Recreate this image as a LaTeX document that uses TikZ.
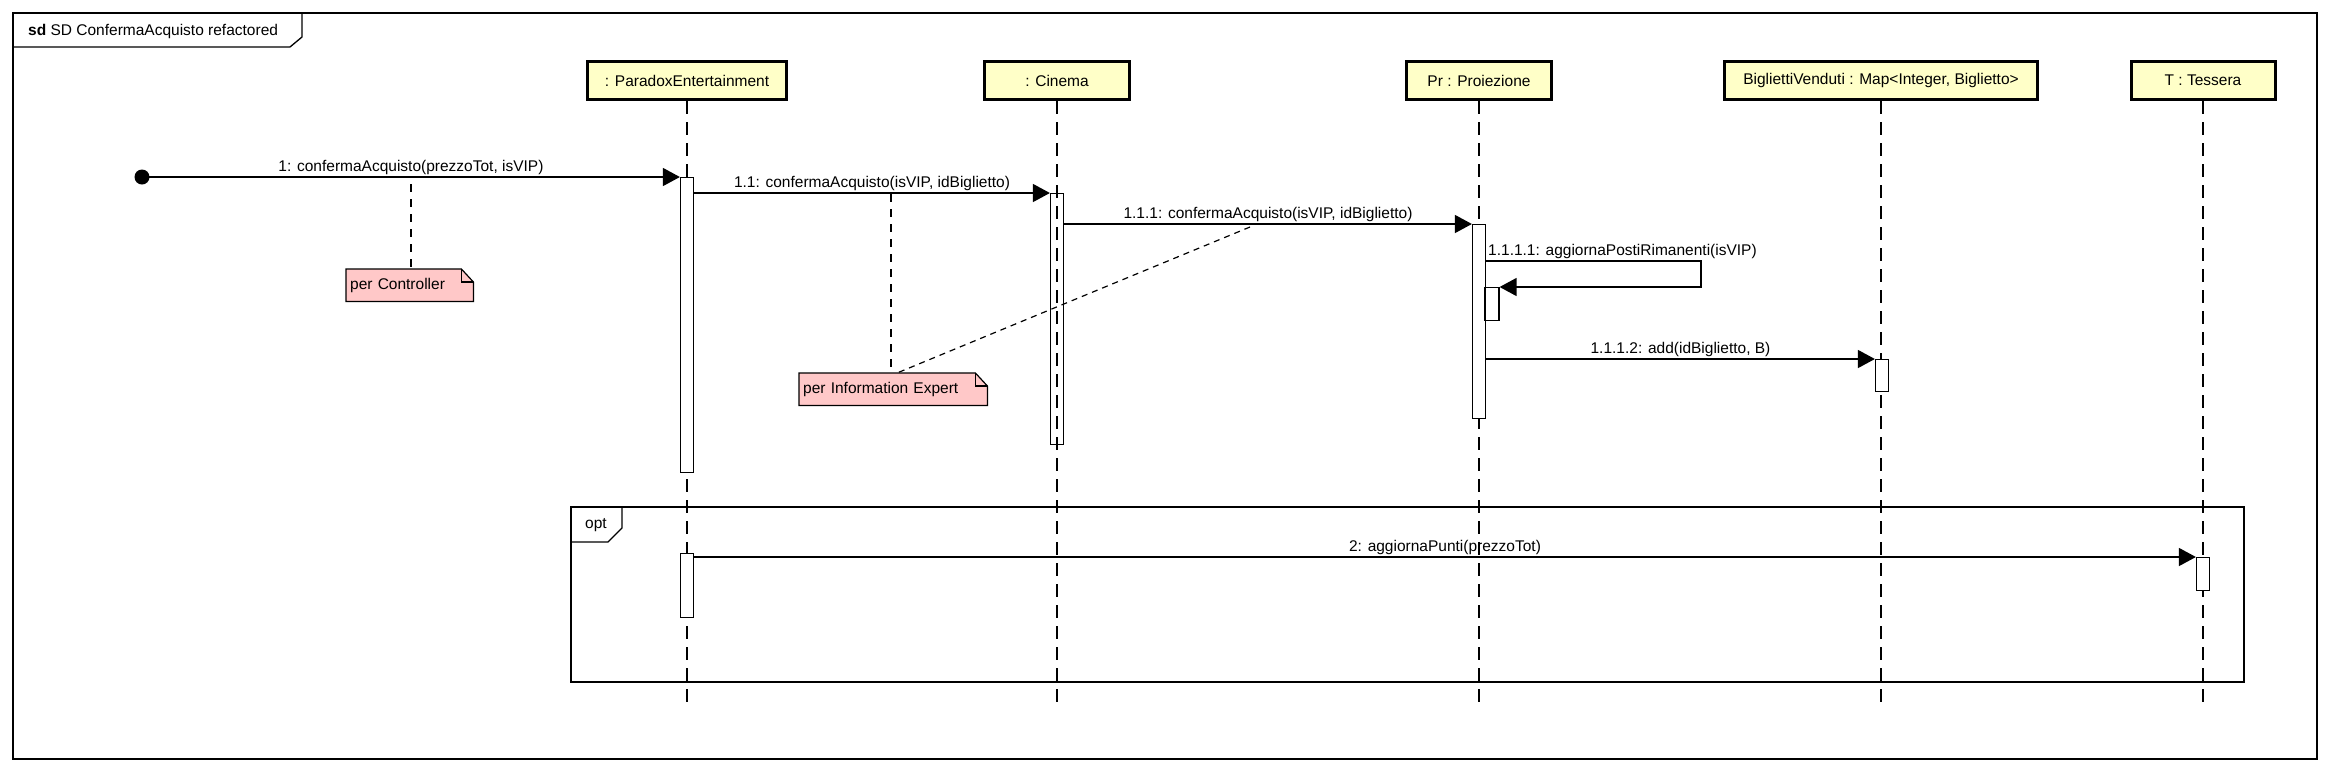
\documentclass[tikz,border=0pt]{standalone}
\usepackage{fontspec}
\setmainfont{Liberation Sans}
\usetikzlibrary{arrows.meta,backgrounds}
\definecolor{headfill}{RGB}{255,255,200}
\definecolor{notefill}{RGB}{255,200,200}
\begin{document}
\begin{tikzpicture}[x=1pt,y=-1pt,
  every node/.style={font=\fontsize{15.5}{18}\selectfont},
  head/.style={draw, line width=3pt, fill=headfill, minimum height=38pt, inner sep=0pt},
  life/.style={line width=1.2pt, dash pattern=on 13pt off 8pt},
  act/.style={draw, line width=1.2pt, fill=white, inner sep=0pt, minimum width=13pt, anchor=north},
  msg/.style={line width=1.4pt, -{Triangle[length=17pt,width=18pt]}},
  lbl/.style={anchor=base, yshift=6pt, inner sep=0pt},
  notebox/.style={inner sep=0pt, inner xsep=4pt, align=left, minimum height=32pt, anchor=north west},
  noteline/.style={line width=1.2pt, dash pattern=on 8pt off 7pt},
  frameline/.style={line width=1.3pt}
]
\useasboundingbox (0,0) rectangle (2330,772);

% outer frame
\draw[frameline] (13,13) rectangle (2317,759);
\draw[frameline] (13,47) -- (290,47) -- (302,37) -- (302,13);
\node[anchor=west, inner sep=0pt] (title) at (28,31) {\textbf{sd} SD ConfermaAcquisto refactored};

% opt frame
\draw[frameline] (571,507) rectangle (2244,682);
\draw[frameline] (571,542) -- (608,542) -- (622,528) -- (622,507);
\node (opt) at (596,525) {opt};

% heads
\node[head, minimum width=199pt] (pe) at (687,80.5) {: ParadoxEntertainment};
\node[head, minimum width=145pt] (ci) at (1057,80.5) {: Cinema};
\node[head, minimum width=145pt] (pr) at (1479,80.5) {Pr : Proiezione};
\node[head, minimum width=313pt] (bv) at (1881,80.5) {BigliettiVenduti : Map<Integer, Biglietto>};
\node[head, minimum width=144pt] (ts) at (2203,80.5) {T : Tessera};

% lifelines
\coordinate (bottom) at (0,702);
\foreach \n in {pe,ci,pr,bv,ts}{
  \draw[life] (\n.south) -- (\n.south |- bottom);
}

% activations
\node[act, minimum height=295pt] (a1) at (687,177) {};
\node[act, fill=none, minimum height=251pt] (a2) at (1057,193) {};
\node[act, minimum height=194pt] (a3) at (1479,224) {};
\node[act, minimum width=14pt, minimum height=33pt] (a4) at (1492,287) {};
\node[act, minimum height=32pt] (a5) at (1882,359) {};
\node[act, minimum height=64pt] (a6) at (687,553) {};
\node[act, minimum height=33pt] (a7) at (2203,557) {};

% messages
\node[circle, fill, inner sep=0pt, minimum size=15pt] (f1) at (142,177) {};
\draw[msg] (f1.center) -- (a1.north west) node[lbl, midway] {1: confermaAcquisto(prezzoTot, isVIP)};
\draw[msg] (a1.east |- a2.north) -- (a2.north west) node[lbl, midway] {1.1: confermaAcquisto(isVIP, idBiglietto)};
\draw[msg] (a2.east |- a3.north) -- (a3.north west) node[lbl, midway] {1.1.1: confermaAcquisto(isVIP, idBiglietto)};
\coordinate (s1) at (1701,261);
\draw[msg] (a3.east |- s1) -- (s1) -- (s1 |- a4.north) -- (a4.north east);
\node[anchor=base west, inner sep=0pt] (l4) at (1488,255) {1.1.1.1: aggiornaPostiRimanenti(isVIP)};
\draw[msg] (a3.east |- a5.north) -- (a5.north west) node[lbl, midway] {1.1.1.2: add(idBiglietto, B)};
\draw[msg] (a6.east |- a7.north) -- (a7.north west) node[lbl, midway] {2: aggiornaPunti(prezzoTot)};

% notes
\node[notebox, text width=119pt] (n1) at (346,269) {per Controller};
\node[notebox, text width=180pt] (n2) at (799,373) {per Information Expert};
\begin{pgfonlayer}{background}
  \fill[white] (0,0) rectangle (2330,772);
  \foreach \n in {n1,n2}{
    \filldraw[fill=notefill, line width=1.2pt] (\n.south west) -- (\n.north west) -- ([xshift=-12pt]\n.north east) -- ([yshift=-13pt]\n.north east) -- (\n.south east) -- cycle;
  }
\end{pgfonlayer}
\foreach \n in {n1,n2}{
  \draw[line width=1.2pt] ([xshift=-12pt]\n.north east) |- ([yshift=-13pt]\n.north east);
}
\coordinate (c1) at (411,184);
\draw[noteline] (c1) -- (c1 |- n1.north);
\coordinate (c2) at (891,194);
\draw[noteline] (c2) -- (c2 |- n2.north);
\coordinate (c3) at (1250,227);
\coordinate (c4) at (897,373);
\draw[line width=1.2pt, dash pattern=on 6pt off 5pt] (c3) -- (c4);
\end{tikzpicture}
\end{document}
